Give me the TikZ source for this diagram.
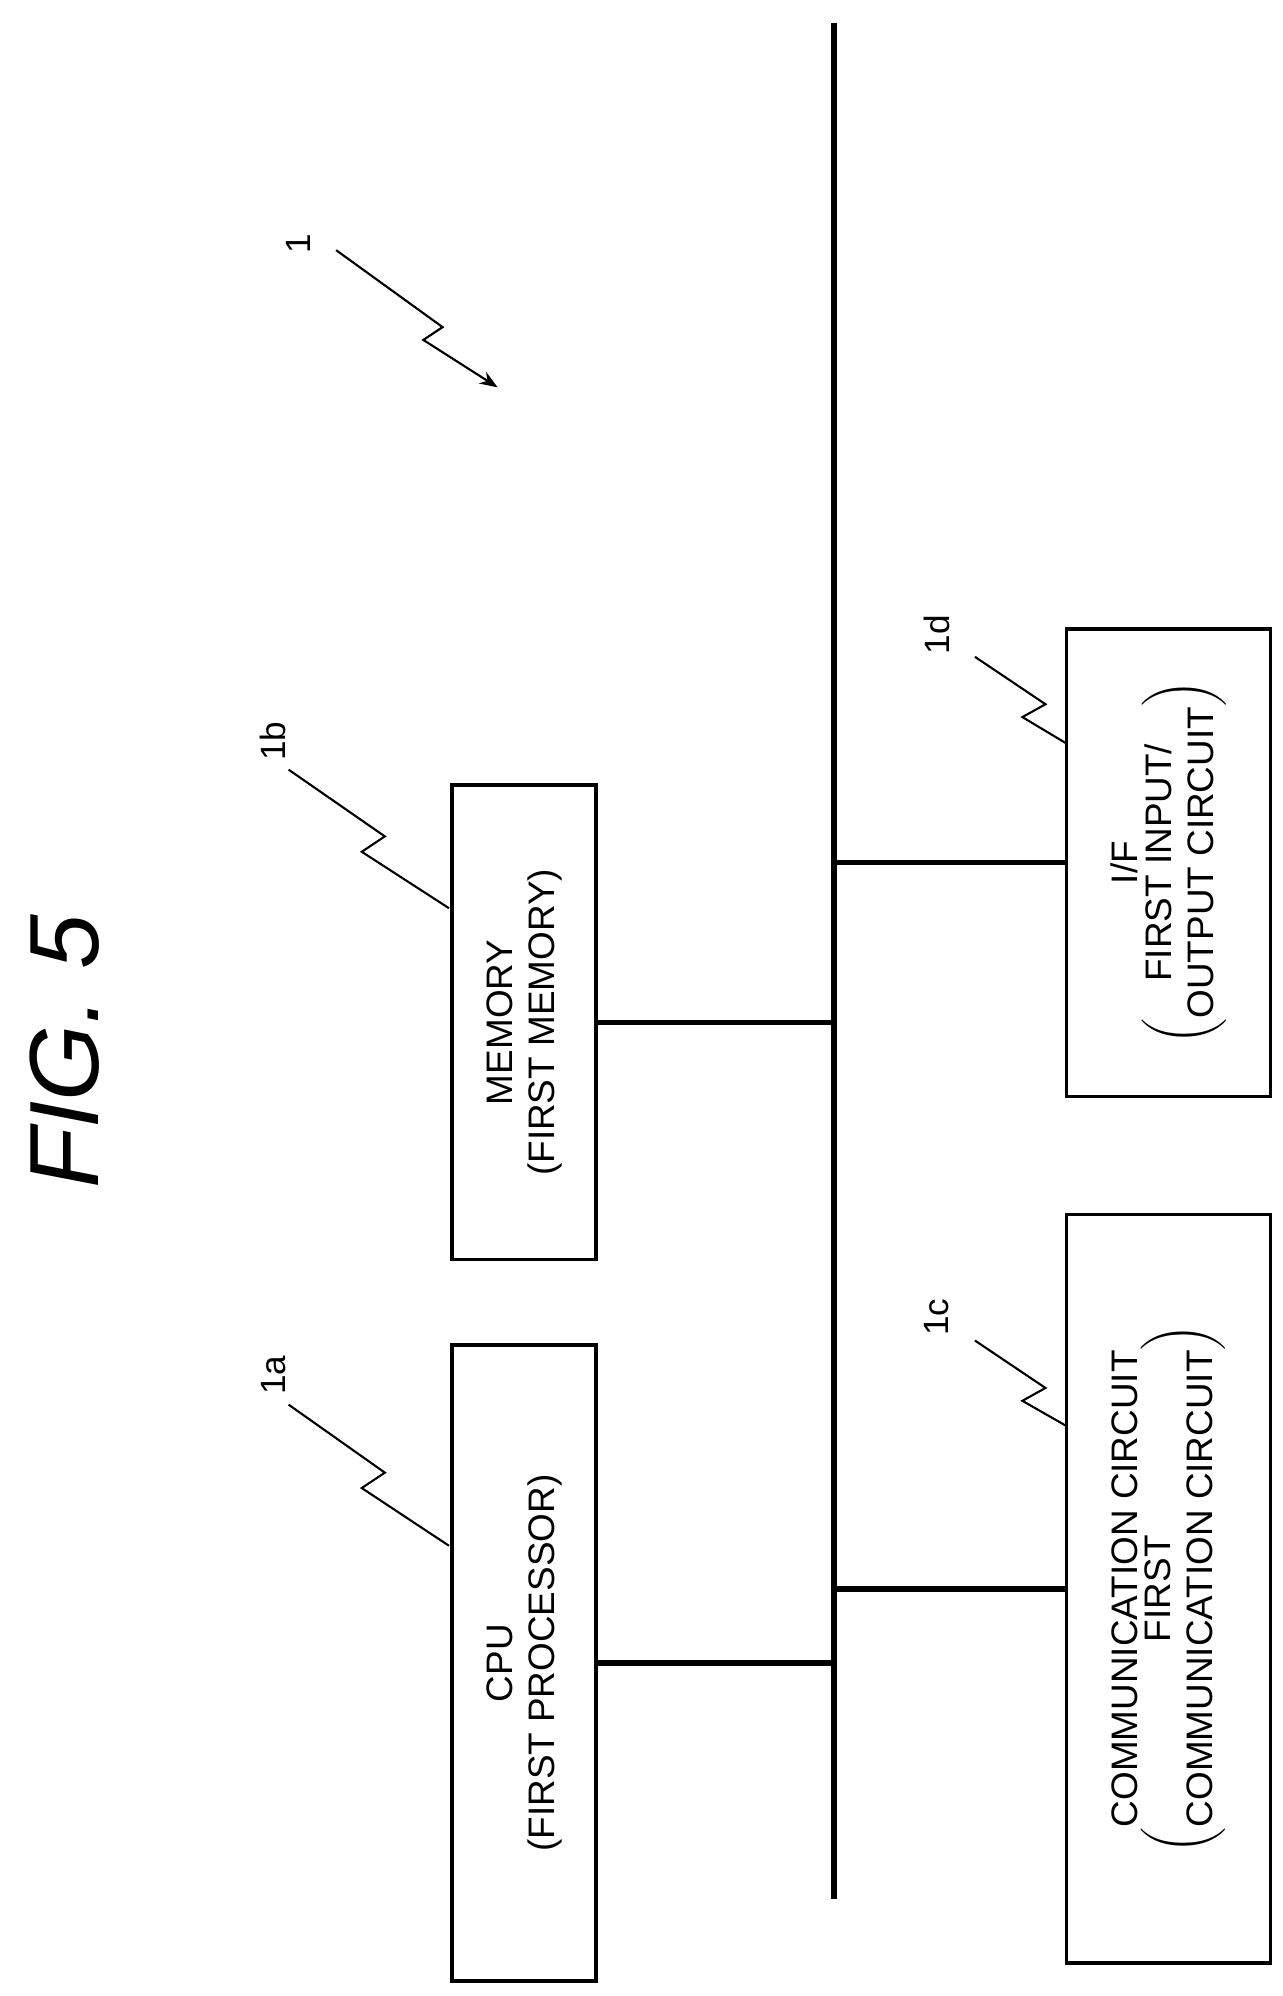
\documentclass[tikz,border=0pt]{standalone}
\usepackage{fontspec}
\setmainfont{Liberation Sans}
\usetikzlibrary{arrows.meta}
\usetikzlibrary{calc}
\usetikzlibrary{positioning}
\begin{document}
\begin{tikzpicture}[
    x=0.01283cm, y=-0.01283cm,
    unitbox/.style={
      draw, line width=1pt, rotate=90, inner sep=0pt, align=center,
      font=\fontsize{10.5}{12}\selectfont
    },
    busline/.style={
      line width=1.6pt
    },
    leader/.style={
      line width=0.6pt
    },
    reflabel/.style={
      rotate=90, font=\fontsize{10}{12}\selectfont
    }
  ]
    \useasboundingbox (0,0) rectangle (1000,1556);

    \coordinate (BT) at (650,  18);
    \coordinate (BB) at (650,1480);
    \draw[busline] (BT) -- (BB);

    \node[unitbox, minimum width=181pt, minimum height=41pt] (CPU) at (408.5,1296.5)
      {CPU\\(FIRST PROCESSOR)};
    \node[unitbox, minimum width=135pt, minimum height=41pt] (MEM) at (408.5,797)
      {MEMORY\\(FIRST MEMORY)};
    \node[unitbox, minimum width=213pt, minimum height=58pt] (COM) at (911,1238.5)
      {COMMUNICATION CIRCUIT\\$\left(\mbox{\begin{tabular}{@{}c@{}}FIRST\\COMMUNICATION CIRCUIT\end{tabular}}\right)$};
    \node[unitbox, minimum width=133pt, minimum height=58pt] (IF) at (911,672.5)
      {I/F\\$\left(\mbox{\begin{tabular}{@{}c@{}}FIRST INPUT/\\OUTPUT CIRCUIT\end{tabular}}\right)$};

    \draw[busline] (CPU.south) -- (CPU.south -| BT);
    \draw[busline] (MEM.south) -- (MEM.south -| BT);
    \draw[busline] (COM.north) -- (COM.north -| BT);
    \draw[busline] (IF.north)  -- (IF.north -| BT);

    \node[font=\fontsize{28}{30}\selectfont\itshape, rotate=90] (FIG) at (50,820) {FIG. 5};

    % reference numerals with zigzag leaders
    \node[reflabel] (L1)  at (233, 190) {1};
    \node[reflabel] (L1a) at (213,1072) {1a};
    \node[reflabel] (L1b) at (213, 578) {1b};
    \node[reflabel] (L1c) at (730,1027) {1c};
    \node[reflabel] (L1d) at (730, 495) {1d};

    \draw[leader] (225,1095) -- (300,1148) -- (282,1160) -- (350,1205);
    \draw[leader] (225, 600) -- (300, 652) -- (282, 664) -- (350, 708);
    \draw[leader] (760,1045) -- (815,1082) -- (797,1092) -- (832,1112);
    \draw[leader] (760, 512) -- (815, 549) -- (797, 559) -- (832, 580);
    \draw[leader,-{Stealth[scale=0.9]}] (262,195) -- (345,255) -- (330,265) -- (388,302);
  \end{tikzpicture}
\end{document}
